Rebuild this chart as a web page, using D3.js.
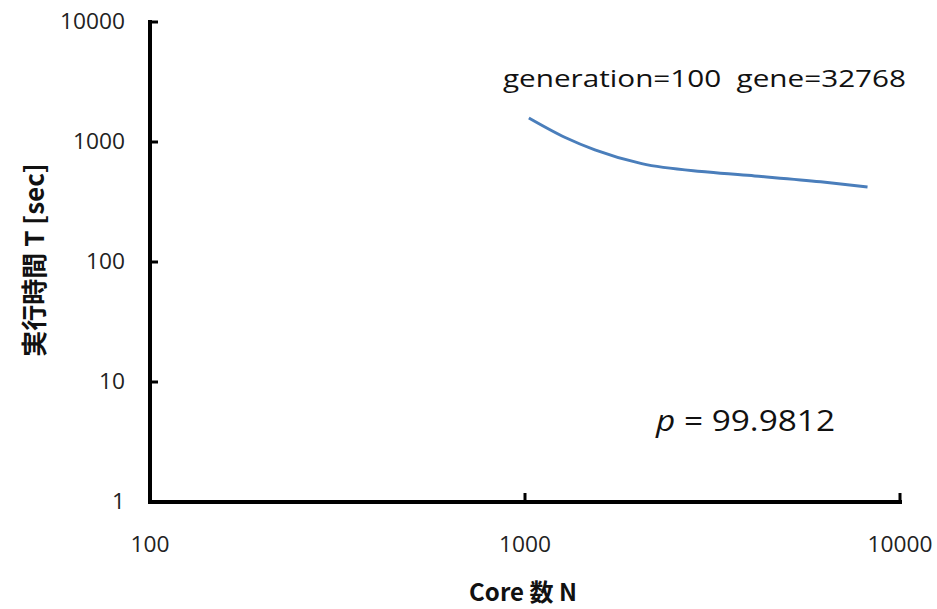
<!DOCTYPE html>
<html>
<head>
<meta charset="utf-8">
<script src="https://cdn.jsdelivr.net/npm/d3@7"></script>
<style>
    body { margin: 0; background: #fff; }
    svg { display: block; font-family: "Open Sans", "Liberation Sans", sans-serif; }
</style>
</head>
<body>
<svg id="chart" width="937" height="609"></svg>
<script>
// Data
const cores = [1024, 1280, 1536, 2048, 3072, 4096, 6144, 8192];
const times = [1585, 1090, 860, 660, 562, 521, 466, 422];
const xTicks = [100, 1000, 10000];
const yTicks = [1, 10, 100, 1000, 10000];
const xTitle = 'Core 数 N';
const yTitle = '実行時間 T [sec]';
const caption = 'generation=100\u00a0\u00a0gene=32768';
const pValue = '99.9812';

const svg = d3.select('#chart');
const margin = { top: 22, right: 37, bottom: 107, left: 150 };
const width = 937 - margin.left - margin.right,
    height = 609 - margin.top - margin.bottom;

const x = d3.scaleLog().domain([100, 10000]).range([0, width]);
const y = d3.scaleLog().domain([1, 10000]).range([height, 0]);

const g = svg.append('g').attr('transform', 'translate(' + margin.left + ',' + margin.top + ')');

// Axes
const axisW = 4;
g.append('line')
    .attr('x1', 0).attr('x2', 0)
    .attr('y1', y(10000) - axisW / 2).attr('y2', y(1) + axisW / 2)
    .attr('stroke', '#000').attr('stroke-width', axisW);
g.append('line')
    .attr('x1', x(100) - axisW / 2).attr('x2', x(10000) + axisW / 2)
    .attr('y1', height).attr('y2', height)
    .attr('stroke', '#000').attr('stroke-width', axisW);

// Tick marks (pointing inside)
g.selectAll('.ytick').data(yTicks.filter(d => d > 1)).enter().append('line')
    .attr('class', 'ytick')
    .attr('x1', 0).attr('x2', 8)
    .attr('y1', d => y(d)).attr('y2', d => y(d))
    .attr('stroke', '#000').attr('stroke-width', 3);
g.selectAll('.xtick').data(xTicks.filter(d => d > 100)).enter().append('line')
    .attr('class', 'xtick')
    .attr('x1', d => x(d)).attr('x2', d => x(d))
    .attr('y1', height).attr('y2', height - 9)
    .attr('stroke', '#000').attr('stroke-width', 3);

// Tick labels
g.selectAll('.ylabel').data(yTicks).enter().append('text')
    .attr('class', 'ylabel')
    .attr('x', -25).attr('y', d => y(d))
    .attr('dy', '0.35em')
    .attr('text-anchor', 'end')
    .attr('font-size', 21)
    .attr('textLength', d => String(d).length * 13)
    .attr('lengthAdjust', 'spacingAndGlyphs')
    .attr('fill', '#222')
    .text(d => d);
g.selectAll('.xlabel').data(xTicks).enter().append('text')
    .attr('class', 'xlabel')
    .attr('x', d => x(d)).attr('y', height + 43)
    .attr('dy', '0.35em')
    .attr('text-anchor', 'middle')
    .attr('font-size', 21)
    .attr('textLength', d => String(d).length * 13)
    .attr('lengthAdjust', 'spacingAndGlyphs')
    .attr('fill', '#222')
    .text(d => d);

// Axis titles
svg.append('text')
    .attr('x', margin.left + x(1000) - 2).attr('y', 601)
    .attr('text-anchor', 'middle')
    .attr('font-size', 24).attr('font-weight', 'bold')
    .attr('font-family', '"Noto Sans CJK JP", "Open Sans", sans-serif')
    .attr('fill', '#111')
    .text(xTitle);
svg.append('text')
    .attr('transform', 'translate(44,' + 260 + ') rotate(-90)')
    .attr('text-anchor', 'middle')
    .attr('font-size', 26).attr('font-weight', 'bold')
    .attr('font-family', '"Noto Sans CJK JP", "Open Sans", sans-serif')
    .attr('fill', '#111')
    .text(yTitle);

// Series
const line = d3.line()
    .x((d, i) => x(cores[i]))
    .y(d => y(d))
    .curve(d3.curveMonotoneX);
g.append('path')
    .datum(times)
    .attr('d', line)
    .attr('fill', 'none')
    .attr('stroke', '#4a7ebb')
    .attr('stroke-width', 3);

// Annotations
svg.append('text')
    .attr('x', 503).attr('y', 87)
    .attr('font-size', 24)
    .attr('textLength', 403)
    .attr('lengthAdjust', 'spacingAndGlyphs')
    .attr('fill', '#111')
    .text(caption);

const pText = svg.append('text')
    .attr('x', 656).attr('y', 431)
    .attr('font-size', 30)
    .attr('textLength', 179)
    .attr('lengthAdjust', 'spacingAndGlyphs')
    .attr('fill', '#111');
pText.append('tspan').attr('font-style', 'italic').text('p');
pText.append('tspan').text(' = ' + pValue);
</script>
</body>
</html>
